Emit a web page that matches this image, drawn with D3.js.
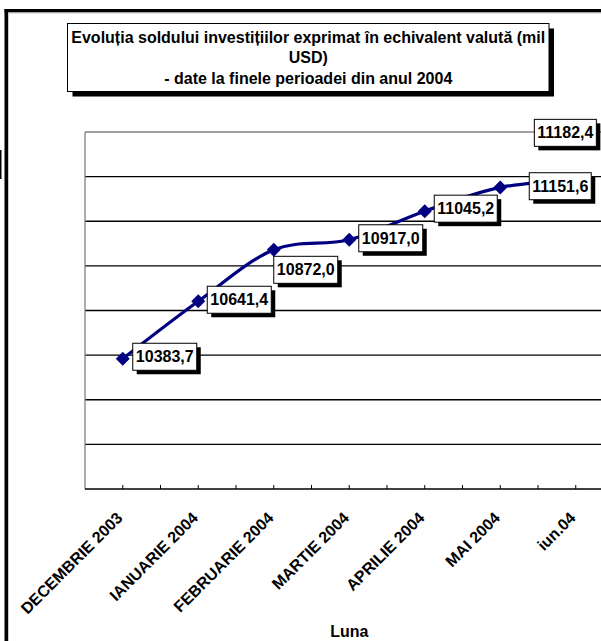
<!DOCTYPE html>
<html>
<head>
<meta charset="utf-8">
<script src="https://cdn.jsdelivr.net/npm/d3@7"></script>
<style>
  html, body { margin: 0; padding: 0; background: #fff; overflow: hidden; }
  svg { display: block; font-family: "Liberation Sans", Arial, sans-serif; }
</style>
</head>
<body>
<svg id="chart" width="601" height="641"></svg>
<script>
// ---- data ----
const categories = ["DECEMBRIE 2003", "IANUARIE 2004", "FEBRUARIE 2004", "MARTIE 2004", "APRILIE 2004", "MAI 2004", "iun.04"];
const values = [10383.7, 10641.4, 10872.0, 10917.0, 11045.2, 11151.6, 11182.4];
const yGridValues = [9800, 10000, 10200, 10400, 10600, 10800, 11000, 11200, 11400];
const titleLines = ["Evoluția soldului investițiilor exprimat în echivalent valută (mil", "USD)", "- date la finele perioadei din anul 2004"];
const xAxisTitle = "Luna";

// ---- styling / layout (not data) ----
const labelOffsets = [[10, -15.5], [9, -15], [0, 6.5], [9.5, -15], [9.5, -16], [29, -14.7], [-41.4, -61.2]];
const markerShown = [true, true, true, true, true, true, false];

const svg = d3.select("#chart");
const W = 601, H = 641;
const plot = { left: 85, top: 132, bottom: 489, right: 85 + 7 * 75.5 };

const fmt = d3.formatLocale({ decimal: ",", thousands: "", grouping: [3], currency: ["", ""] }).format(".1f");

// outer frame
svg.append("line").attr("x1", 6.25).attr("x2", 6.25).attr("y1", 9).attr("y2", H)
  .attr("stroke", "#000").attr("stroke-width", 3.5);
svg.append("line").attr("x1", 4.5).attr("x2", W).attr("y1", 10.75).attr("y2", 10.75)
  .attr("stroke", "#000").attr("stroke-width", 3.5);
svg.append("line").attr("x1", 8.5).attr("x2", 8.5).attr("y1", 12.5).attr("y2", H)
  .attr("stroke", "#c8c8c8").attr("stroke-width", 1);
svg.append("line").attr("x1", 8).attr("x2", W).attr("y1", 13).attr("y2", 13)
  .attr("stroke", "#c8c8c8").attr("stroke-width", 1);
svg.append("rect").attr("x", 0).attr("y", 150).attr("width", 1.5).attr("height", 29).attr("fill", "#000");

// scales
const x = d3.scaleBand().domain(categories).range([plot.left, plot.right]).paddingInner(0).paddingOuter(0);
const cx = d => x(d) + x.bandwidth() / 2;
const y = d3.scaleLinear().domain([9800, 11400]).range([plot.bottom, plot.top]);

const g = svg.append("g");

// gridlines
g.selectAll("line.grid").data(yGridValues.filter(v => v > 9800 && v < 11400)).join("line")
  .attr("class", "grid")
  .attr("x1", plot.left).attr("x2", W)
  .attr("y1", d => y(d)).attr("y2", d => y(d))
  .attr("stroke", "#000").attr("stroke-width", 1.3);

// plot area top/left border (gray)
g.append("line").attr("x1", plot.left).attr("x2", W).attr("y1", y(11400)).attr("y2", y(11400))
  .attr("stroke", "#808080").attr("stroke-width", 1.3);
g.append("line").attr("x1", plot.left).attr("x2", plot.left).attr("y1", y(11400)).attr("y2", plot.bottom)
  .attr("stroke", "#808080").attr("stroke-width", 1.3);

// x axis with ticks at category centers and boundaries (inside, upward)
const xAxisG = g.append("g").attr("transform", `translate(0,${plot.bottom})`);
xAxisG.append("line").attr("x1", plot.left).attr("x2", W).attr("y1", 0).attr("y2", 0)
  .attr("stroke", "#000").attr("stroke-width", 1.6);
const tickPos = [];
categories.forEach(c => { tickPos.push(x(c)); tickPos.push(cx(c)); });
tickPos.push(plot.right);
xAxisG.selectAll("line.tick").data(tickPos.filter(p => p > plot.left && p < W)).join("line")
  .attr("class", "tick")
  .attr("x1", d => d).attr("x2", d => d).attr("y1", 0).attr("y2", -4)
  .attr("stroke", "#000").attr("stroke-width", 1);

// category labels rotated -45
g.selectAll("text.cat").data(categories).join("text")
  .attr("class", "cat")
  .attr("transform", d => `translate(${cx(d) - 3},${plot.bottom + 26}) rotate(-45)`)
  .attr("text-anchor", "end")
  .attr("dominant-baseline", "central")
  .attr("font-size", 16).attr("font-weight", "bold").attr("fill", "#000")
  .text(d => d);

// axis title
svg.append("text").attr("x", (plot.left + plot.right) / 2).attr("y", 637)
  .attr("text-anchor", "middle").attr("font-size", 16).attr("font-weight", "bold")
  .text(xAxisTitle);

// line
const pts = categories.map((c, i) => [cx(c), y(values[i])]);
g.append("path").datum(pts)
  .attr("d", d3.line().curve(d3.curveCardinal.tension(0)))
  .attr("fill", "none").attr("stroke", "#000080").attr("stroke-width", 3.2);

// markers
g.selectAll("path.mk").data(pts.filter((p, i) => markerShown[i])).join("path")
  .attr("class", "mk")
  .attr("transform", d => `translate(${d[0]},${d[1]}) rotate(45)`)
  .attr("d", d3.symbol().type(d3.symbolSquare).size(98))
  .attr("fill", "#000080");

// data labels
const lab = g.selectAll("g.lab").data(values).join("g").attr("class", "lab");
lab.each(function (v, i) {
  const s = d3.select(this);
  const bx = pts[i][0] + labelOffsets[i][0];
  const by = pts[i][1] + labelOffsets[i][1];
  const t = s.append("text").attr("font-size", 16).attr("font-weight", "bold").text(fmt(v));
  const tw = t.node().getComputedTextLength();
  const bw = Math.round(tw + 6), bh = 27;
  s.insert("rect", "text").attr("x", bx + 4).attr("y", by + 4).attr("width", bw).attr("height", bh).attr("fill", "#000");
  s.insert("rect", "text").attr("x", bx).attr("y", by).attr("width", bw).attr("height", bh)
    .attr("fill", "#fff").attr("stroke", "#000").attr("stroke-width", 1);
  t.attr("x", bx + bw / 2).attr("y", by + bh / 2).attr("text-anchor", "middle").attr("dominant-baseline", "central");
});

// title box
const title = svg.append("g");
const tb = { x: 67.5, y: 23.5, w: 481.5, h: 68 };
title.append("rect").attr("x", tb.x + 5).attr("y", tb.y + 5).attr("width", tb.w).attr("height", tb.h).attr("fill", "#000");
title.append("rect").attr("x", tb.x).attr("y", tb.y).attr("width", tb.w).attr("height", tb.h)
  .attr("fill", "#fff").attr("stroke", "#000").attr("stroke-width", 1);
title.selectAll("text").data(titleLines).join("text")
  .attr("x", tb.x + tb.w / 2).attr("y", (d, i) => 37 + i * 20.8)
  .attr("text-anchor", "middle").attr("dominant-baseline", "central")
  .attr("font-size", 16).attr("font-weight", "bold")
  .text(d => d);
</script>
</body>
</html>
